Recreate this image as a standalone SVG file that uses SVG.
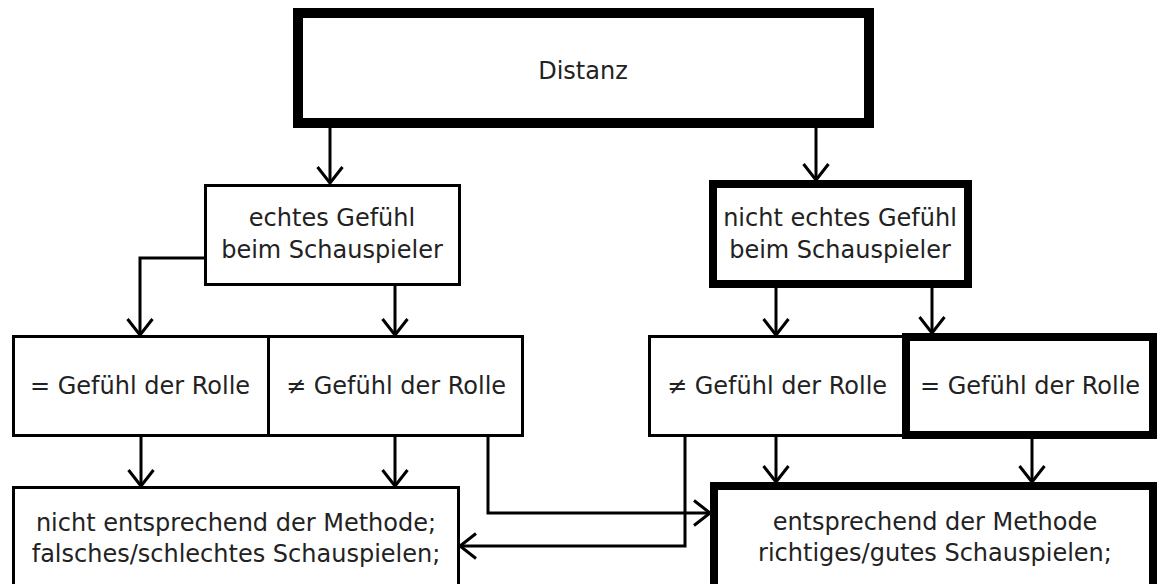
<svg xmlns="http://www.w3.org/2000/svg" width="1160" height="584" viewBox="0 0 1160 584">
<defs>
<style>
.box{fill:#fff;stroke:#000;stroke-width:3}
.thick{stroke-width:8}
.t{font-family:"DejaVu Sans","Liberation Sans",sans-serif;font-size:24px;fill:#222;text-anchor:middle}
.c{fill:none;stroke:#000;stroke-width:3}
</style>
<marker id="ah" markerUnits="userSpaceOnUse" markerWidth="30" markerHeight="30" refX="0" refY="0" viewBox="-18 -15 22 30" orient="auto" overflow="visible">
<path d="M-16,-12.5 L0,0 L-16,12.5" fill="none" stroke="#000" stroke-width="3"/>
</marker>
</defs>
<rect width="1160" height="584" fill="#fff"/>
<g id="n-distanz"><rect class="box" x="298" y="13" width="571" height="110" style="stroke-width:10"/><text class="t" x="583" y="79">Distanz</text></g>
<g id="n-echt"><rect class="box" x="205.5" y="185.5" width="254" height="99"/><text class="t" x="332" y="226">echtes Gefühl</text><text class="t" x="332" y="258">beim Schauspieler</text></g>
<g id="n-nichtecht"><rect class="box thick" x="713" y="184" width="255" height="100"/><text class="t" x="840" y="226">nicht echtes Gefühl</text><text class="t" x="840" y="258">beim Schauspieler</text></g>
<g id="n-gleich-l"><rect class="box" x="13.5" y="336.5" width="255" height="99"/><text class="t" x="140" y="394">= Gefühl der Rolle</text></g>
<g id="n-ungleich-l"><rect class="box" x="268.5" y="336.5" width="254" height="99"/><text class="t" x="396" y="394">≠ Gefühl der Rolle</text></g>
<g id="n-ungleich-r"><rect class="box" x="649.5" y="336.5" width="255" height="99"/><text class="t" x="777" y="394">≠ Gefühl der Rolle</text></g>
<g id="n-gleich-r"><rect class="box thick" x="906" y="337" width="247" height="98"/><text class="t" x="1030" y="394">= Gefühl der Rolle</text></g>
<g id="n-falsch"><rect class="box" x="13.5" y="487.5" width="445" height="110"/><text class="t" x="236" y="531">nicht entsprechend der Methode;</text><text class="t" x="236" y="562">falsches/schlechtes Schauspielen;</text></g>
<g id="n-richtig"><rect class="box thick" x="714" y="486" width="439" height="110"/><text class="t" x="935" y="530">entsprechend der Methode</text><text class="t" x="935" y="561">richtiges/gutes Schauspielen;</text></g>
<g id="connectors">
<path class="c" d="M330 128 V183" marker-end="url(#ah)"/>
<path class="c" d="M816 128 V180" marker-end="url(#ah)"/>
<path class="c" d="M204 258 H140 V335" marker-end="url(#ah)"/>
<path class="c" d="M395 286 V335" marker-end="url(#ah)"/>
<path class="c" d="M776 288 V335" marker-end="url(#ah)"/>
<path class="c" d="M932 288 V333" marker-end="url(#ah)"/>
<path class="c" d="M141 437 V486" marker-end="url(#ah)"/>
<path class="c" d="M395 437 V486" marker-end="url(#ah)"/>
<path class="c" d="M488 437 V513 H710" marker-end="url(#ah)"/>
<path class="c" d="M685 437 V546 H460" marker-end="url(#ah)"/>
<path class="c" d="M776 437 V482" marker-end="url(#ah)"/>
<path class="c" d="M1032 439 V482" marker-end="url(#ah)"/>
</g>
</svg>
